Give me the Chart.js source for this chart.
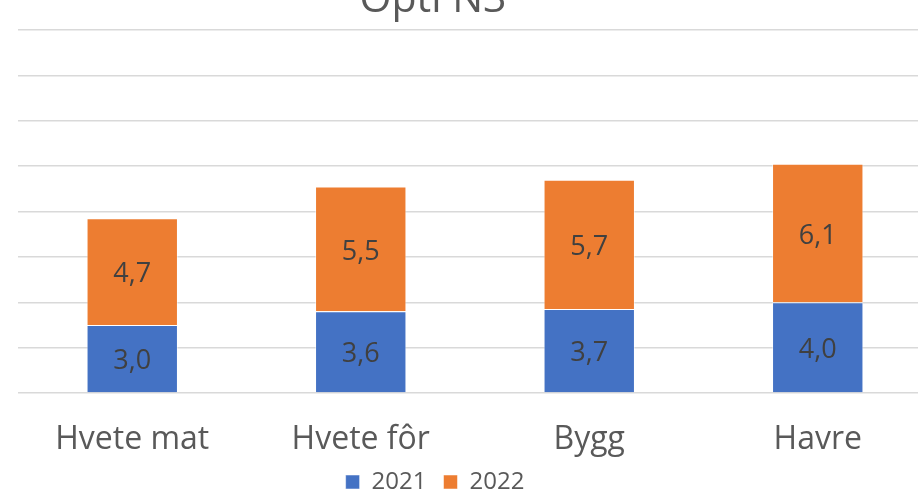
<!DOCTYPE html>
<html>
<head>
<meta charset="utf-8">
<script src="https://cdn.jsdelivr.net/npm/chart.js"></script>
<style>
    html, body { margin: 0; padding: 0; background: #fff; overflow: hidden; }
    #wrap { position: absolute; left: 0; top: -26px; width: 950px; height: 564px; }
</style>
</head>
<body>
<div id="wrap"><canvas id="myChart"></canvas></div>
<script>
const categories = ['Hvete mat', 'Hvete fôr', 'Bygg', 'Havre'];
const seriesNames = ['2021', '2022'];
const values2021 = [3.0, 3.6, 3.7, 4.0];
const values2022 = [4.7, 5.5, 5.7, 6.1];
const yMax = 16;
const yStep = 2;

const FONT = 'Open Sans';
Chart.defaults.font.family = FONT;

// value labels in the middle of each bar segment
const barLabels = {
    id: 'barLabels',
    afterDatasetsDraw(chart) {
        const ctx = chart.ctx;
        ctx.save();
        ctx.font = '27px "' + FONT + '"';
        ctx.fillStyle = '#404040';
        ctx.textAlign = 'center';
        ctx.textBaseline = 'middle';
        chart.data.datasets.forEach((ds, i) => {
            chart.getDatasetMeta(i).data.forEach((bar, j) => {
                const mid = (bar.y + bar.base) / 2 + 3;
                ctx.fillText(ds.data[j].toFixed(1).replace('.', ','), bar.x, mid);
            });
        });
        ctx.restore();
    }
};

// title and legend are centred on the visible chart, not on the wide plot
const recenter = {
    id: 'recenter',
    afterLayout(chart) {
        chart.titleBlock.left = 0;
        chart.titleBlock.right = 866;
        chart.legend.left = 0;
        chart.legend.right = 870;
        chart.legend.top -= 34;
        chart.legend.bottom -= 34;
    }
};

const ctx = document.getElementById('myChart').getContext('2d');
new Chart(ctx, {
    type: 'bar',
    data: {
        labels: categories,
        datasets: [{
            label: seriesNames[0],
            data: values2021,
            backgroundColor: '#4472C4',
            borderColor: 'rgba(255,255,255,0.5)',
            borderWidth: 1,
            barPercentage: 0.4,
            categoryPercentage: 1.0
        }, {
            label: seriesNames[1],
            data: values2022,
            backgroundColor: '#ED7D31',
            borderColor: 'rgba(255,255,255,0.5)',
            borderWidth: 1,
            barPercentage: 0.4,
            categoryPercentage: 1.0
        }]
    },
    options: {
        responsive: true,
        maintainAspectRatio: false,
        animation: false,
        layout: { padding: { left: 18, right: 18, top: 0, bottom: 0 } },
        plugins: {
            title: {
                display: true,
                text: 'Opti N3',
                color: '#595959',
                font: { size: 41, weight: 'normal' },
                padding: { top: 2, bottom: 4.8 }
            },
            legend: {
                position: 'bottom',
                labels: {
                    boxWidth: 14,
                    boxHeight: 14,
                    color: '#595959',
                    font: { size: 24 },
                    padding: 17
                }
            },
            tooltip: { enabled: false }
        },
        scales: {
            x: {
                stacked: true,
                grid: { display: false, drawTicks: false },
                border: { display: false },
                ticks: {
                    color: '#595959',
                    font: { size: 32, lineHeight: 1 },
                    padding: 31
                }
            },
            y: {
                stacked: true,
                min: 0,
                max: yMax,
                ticks: { display: false, stepSize: yStep },
                grid: { color: '#d9d9d9', lineWidth: 1.5, drawTicks: false },
                border: { display: false }
            }
        }
    },
    plugins: [barLabels, recenter]
});
</script>
</body>
</html>
